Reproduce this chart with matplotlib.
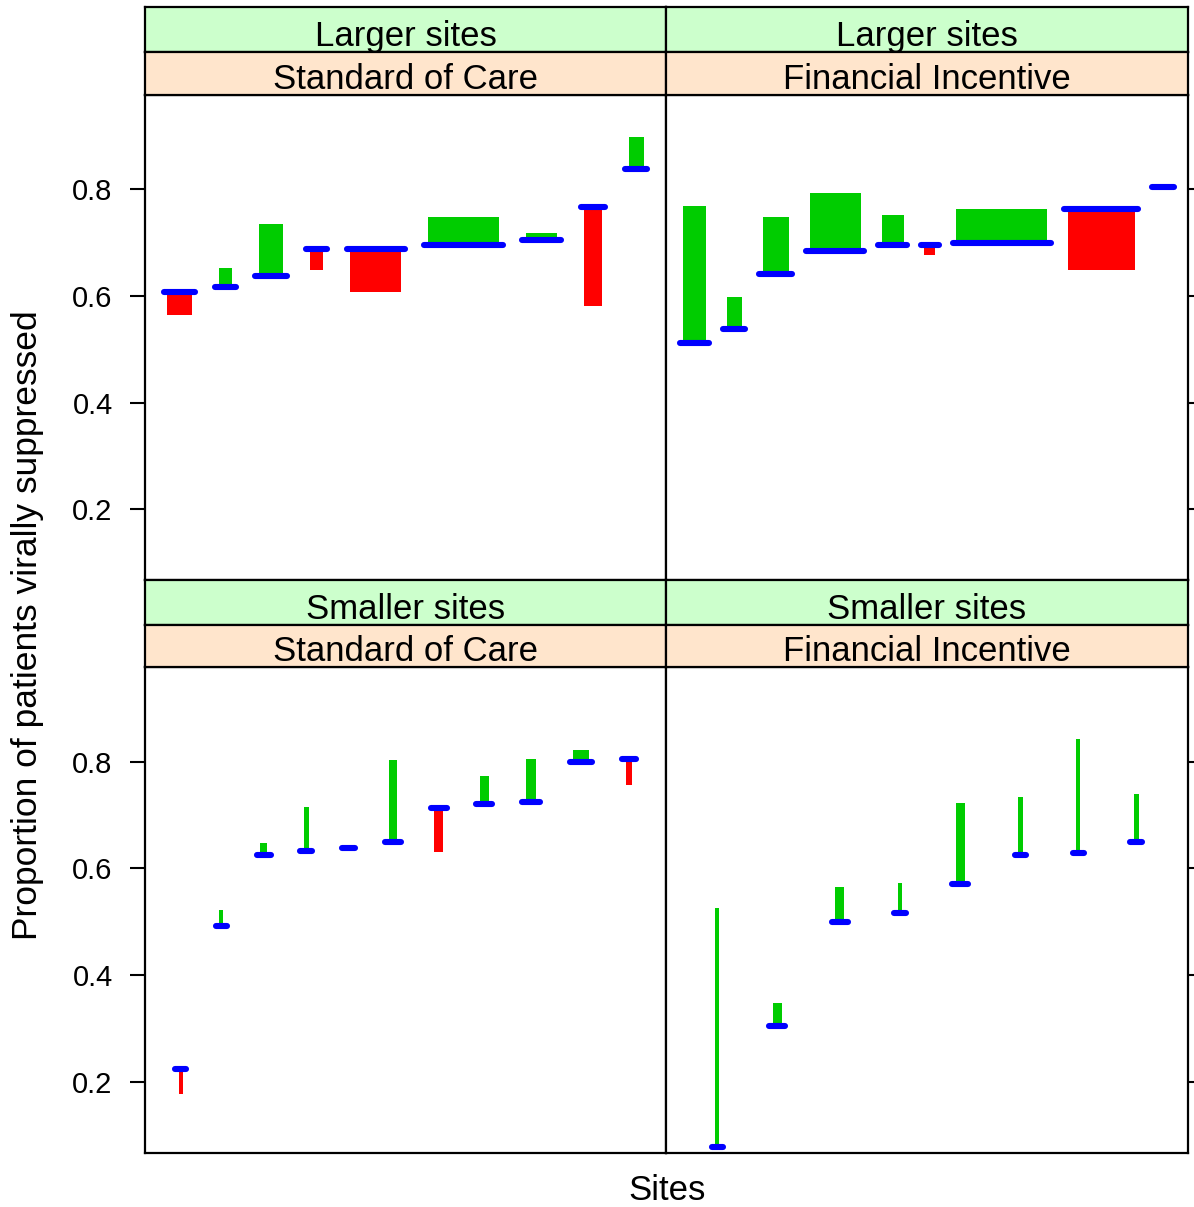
import matplotlib
matplotlib.use("Agg")
import matplotlib.pyplot as plt
import numpy as np

plt.rcParams['font.family'] = ['Liberation Sans', 'DejaVu Sans']

# ---------------- data ----------------
# Larger sites, Standard of Care
ls_soc_width = [24.7, 13.3, 24.3, 13.3, 51.0, 71.3, 31.3, 17.7, 15.3]
ls_soc_base = [0.608, 0.617, 0.6375, 0.6875, 0.6875, 0.6963, 0.7044, 0.7668, 0.8375]
ls_soc_follow = [0.565, 0.652, 0.7357, 0.6487, 0.6069, 0.7475, 0.7188, 0.5819, 0.8975]

# Larger sites, Financial Incentive
ls_fi_width = [22.3, 15.3, 26.3, 51.0, 22.0, 11.0, 91.0, 66.7, 15.1]
ls_fi_base = [0.5125, 0.5375, 0.642, 0.684, 0.696, 0.696, 0.700, 0.7625, 0.804]
ls_fi_follow = [0.768, 0.5975, 0.7475, 0.794, 0.752, 0.6775, 0.764, 0.649, 0.804]

# Smaller sites, Standard of Care
ss_soc_width = [4.0, 4.0, 6.7, 4.7, 6.3, 8.7, 8.7, 8.7, 10.7, 15.7, 6.7]
ss_soc_base = [0.225, 0.4917, 0.625, 0.633, 0.6374, 0.650, 0.7125, 0.721, 0.725, 0.800, 0.804]
ss_soc_follow = [0.178, 0.5225, 0.6474, 0.714, 0.6374, 0.802, 0.6312, 0.7725, 0.8056, 0.8225, 0.756]

# Smaller sites, Financial Incentive
ss_fi_width = [4.0, 8.7, 9.0, 4.7, 9.0, 4.3, 4.3, 4.7]
ss_fi_base = [0.079, 0.3042, 0.500, 0.516, 0.5712, 0.625, 0.6294, 0.650]
ss_fi_follow = [0.5262, 0.3474, 0.5643, 0.5724, 0.7224, 0.7344, 0.843, 0.7387]

size_labels = ["Larger sites", "Smaller sites"]
arm_labels = ["Standard of Care", "Financial Incentive"]
y_ticks = [0.2, 0.4, 0.6, 0.8]
y_label = "Proportion of patients virally suppressed"
x_label = "Sites"

# ---------------- layout ----------------
W, H = 1194, 1207
fig = plt.figure(figsize=(W / 100, H / 100), dpi=100)

def fr(x0, y0, x1, y1):
    return [x0 / W, 1 - y1 / H, (x1 - x0) / W, (y1 - y0) / H]

col_x = [(145, 666), (666, 1188)]
row_y = [(7, 52, 95, 580), (580, 625, 667, 1153)]

panels = [
    [(ls_soc_width, ls_soc_base, ls_soc_follow, 26.8),
     (ls_fi_width, ls_fi_base, ls_fi_follow, 20.8)],
    [(ss_soc_width, ss_soc_base, ss_soc_follow, 36.9),
     (ss_fi_width, ss_fi_base, ss_fi_follow, 53.5)],
]

GREEN = "#00CC00"
RED = "#FF0000"
BLUE = "#0000FF"
STRIP_TOP = "#CCFFCC"
STRIP_BOT = "#FFE5CC"
LW_FRAME = 1.6
YLIM = (0.067, 0.977)

for r in range(2):
    g0, o0, p0, p1 = row_y[r]
    for c in range(2):
        x0, x1 = col_x[c]
        widths, base, follow, gap = panels[r][c]
        widths = np.array(widths)
        base = np.array(base)
        follow = np.array(follow)

        ax = fig.add_axes(fr(x0, p0, x1, p1))
        pw = x1 - x0
        span = widths.sum() + gap * (len(widths) - 1)
        pad = (pw - span) / 2
        lefts = pad + np.concatenate([[0], np.cumsum(widths[:-1] + gap)])
        centers = lefts + widths / 2

        diff = follow - base
        colors = [GREEN if d >= 0 else RED for d in diff]
        ax.bar(centers, diff, bottom=base, width=widths, color=colors,
               linewidth=0, zorder=2)
        ext = 3.5
        for cx, w, b in zip(centers, widths, base):
            ax.plot([cx - w / 2 - ext, cx + w / 2 + ext], [b, b], color=BLUE,
                    lw=4.4, solid_capstyle='round', zorder=3)

        ax.set_xlim(0, pw)
        ax.set_ylim(*YLIM)
        ax.set_xticks([])
        ax.set_yticks(y_ticks)
        for s in ax.spines.values():
            s.set_linewidth(LW_FRAME)
            s.set_color('black')
        if c == 0:
            ax.tick_params(axis='y', left=True, right=False, labelleft=True,
                           labelright=False, direction='out', length=10.8,
                           width=1.5, pad=12.5, labelsize=21)
            ax.set_yticklabels([f"{t:.1f}" for t in y_ticks])
        else:
            ax.tick_params(axis='y', left=False, right=True, labelleft=False,
                           labelright=False, direction='out', length=10.8,
                           width=1.5)

        # strips
        sa = fig.add_axes(fr(x0, g0, x1, o0))
        sa.set_facecolor(STRIP_TOP)
        sa.set_xticks([]); sa.set_yticks([])
        for s in sa.spines.values():
            s.set_linewidth(LW_FRAME)
        sa.text(0.5, 0.34, size_labels[r], ha='center', va='center',
                fontsize=25, transform=sa.transAxes)

        sb = fig.add_axes(fr(x0, o0, x1, p0))
        sb.set_facecolor(STRIP_BOT)
        sb.set_xticks([]); sb.set_yticks([])
        for s in sb.spines.values():
            s.set_linewidth(LW_FRAME)
        sb.text(0.5, 0.37, arm_labels[c], ha='center', va='center',
                fontsize=25, transform=sb.transAxes)

fig.text(28 / W, 1 - 625 / H, y_label, rotation=90, ha='center', va='center',
         fontsize=25.5)
fig.text(667 / W, 1 - 1191 / H, x_label, ha='center', va='center', fontsize=25)

fig.savefig("out.png", dpi=100, facecolor='white')
